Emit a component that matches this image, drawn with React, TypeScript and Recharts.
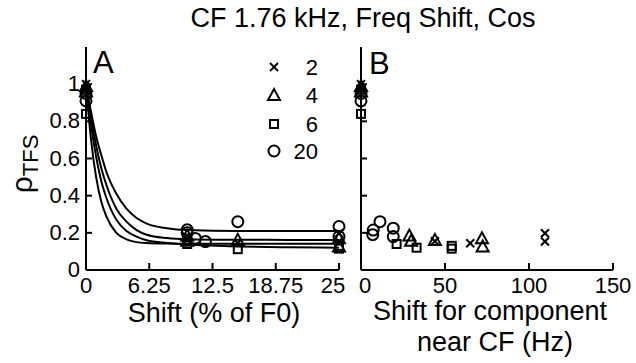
import React from "react";
import { ComposedChart, Line, Scatter, XAxis, YAxis } from "recharts";

const FONT = "'Liberation Sans', Arial, Helvetica, sans-serif";

const RHO_TICKS = [0, 0.2, 0.4, 0.6, 0.8, 1];
const SHIFT_TICKS = [0, 6.25, 12.5, 18.75, 25];
const HZ_TICKS = [0, 50, 100, 150];

// legend labels, one per marker type
const LEGEND_LABELS = ["2", "4", "6", "20"];

// panel A: [shift (% of F0), rho]
const CROSS_A = [[0, 1.0], [0, 0.97], [10, 0.16], [15, 0.145], [25, 0.198], [25, 0.153]];
const TRI_A = [[0, 0.99], [0, 0.96], [10, 0.185], [10, 0.157], [15, 0.162], [25, 0.171], [25, 0.126]];
const SQUARE_A = [[0, 0.97], [0, 0.84], [10, 0.14], [15, 0.112], [25, 0.13], [25, 0.115]];
const CIRCLE_A = [[0, 0.95], [0, 0.91], [10, 0.216], [10, 0.2], [10.8, 0.17], [11.8, 0.153], [15, 0.26], [25, 0.234], [25, 0.18]];

// panel B: [shift of component near CF (Hz), rho]
const CROSS_B = [[0, 1.0], [0, 0.97], [44, 0.155], [65, 0.144], [109.5, 0.198], [109.5, 0.153]];
const TRI_B = [[0, 0.99], [0, 0.96], [28.8, 0.185], [29.8, 0.157], [44, 0.162], [72, 0.171], [72.4, 0.126]];
const SQUARE_B = [[0, 0.97], [0, 0.84], [21.2, 0.14], [33.1, 0.12], [54, 0.13], [54, 0.115]];
const CIRCLE_B = [[0, 0.95], [0, 0.91], [7.3, 0.215], [7, 0.19], [11.3, 0.26], [19.2, 0.225], [19.2, 0.18]];

// fitted decay curves in panel A
const FIT_X = [0, 0.5, 1, 1.5, 2, 3, 4, 5, 6, 8, 10, 15, 20, 25];
const FIT_1 = [1, 0.7, 0.5, 0.37, 0.29, 0.2, 0.165, 0.15, 0.145, 0.142, 0.141, 0.141, 0.141, 0.141];
const FIT_2 = [1, 0.78, 0.61, 0.48, 0.39, 0.27, 0.21, 0.18, 0.16, 0.145, 0.137, 0.127, 0.122, 0.12];
const FIT_3 = [1, 0.82, 0.67, 0.55, 0.46, 0.33, 0.26, 0.215, 0.19, 0.172, 0.166, 0.163, 0.162, 0.162];
const FIT_4 = [1, 0.85, 0.72, 0.62, 0.53, 0.41, 0.33, 0.28, 0.25, 0.225, 0.215, 0.21, 0.21, 0.21];

const fitData = FIT_X.map((x, i) => ({ x, f1: FIT_1[i], f2: FIT_2[i], f3: FIT_3[i], f4: FIT_4[i] }));
const pts = (arr: number[][]) => arr.map(([x, y]) => ({ x, y }));

const W = 636;
const H = 363;
const PLOT_TOP = 47;
const PLOT_BOTTOM = 270;

type Kind = "cross" | "tri" | "square" | "circle";
const KINDS: Kind[] = ["cross", "tri", "square", "circle"];

function Marker({ kind, cx, cy }: { kind: Kind; cx: number; cy: number }) {
  const s = { stroke: "#000", strokeWidth: 2, fill: "none" };
  if (kind === "cross")
    return (
      <g {...s}>
        <line x1={cx - 4} y1={cy - 4} x2={cx + 4} y2={cy + 4} />
        <line x1={cx - 4} y1={cy + 4} x2={cx + 4} y2={cy - 4} />
      </g>
    );
  if (kind === "tri") return <polygon {...s} points={`${cx},${cy - 6} ${cx + 6},${cy + 5} ${cx - 6},${cy + 5}`} />;
  if (kind === "square") return <rect {...s} x={cx - 4} y={cy - 4} width={8} height={8} />;
  return <circle {...s} cx={cx} cy={cy} r={5.5} />;
}

const shape = (kind: Kind) => (p: any) => <Marker kind={kind} cx={p.cx} cy={p.cy} />;

function LeftTick(props: any) {
  const { x, y, payload, showLabel } = props;
  return (
    <g>
      <line x1={x} y1={y} x2={x + 6} y2={y} stroke="#000" strokeWidth={2} />
      {showLabel && (
        <text x={x - 6} y={y} dy={7} textAnchor="end" fontSize={22} fontFamily={FONT} fill="#000">
          {String(payload.value)}
        </text>
      )}
    </g>
  );
}

function BottomTick(props: any) {
  const { x, y, payload, shiftFirst, shiftLast, first, last } = props;
  let dx = 0;
  if (payload.value === first) dx = shiftFirst || 0;
  if (payload.value === last) dx = shiftLast || 0;
  return (
    <g>
      <line x1={x} y1={y} x2={x} y2={y - 7} stroke="#000" strokeWidth={2} />
      <text x={x + dx} y={y + 23} textAnchor="middle" fontSize={22} fontFamily={FONT} fill="#000">
        {String(payload.value)}
      </text>
    </g>
  );
}

const axisLine = { stroke: "#000", strokeWidth: 2 };

function Panel({
  left,
  right,
  domain,
  ticks,
  series,
  showYLabels,
  withFits,
  shiftFirst,
  shiftLast,
}: {
  left: number;
  right: number;
  domain: [number, number];
  ticks: number[];
  series: number[][][];
  showYLabels: boolean;
  withFits: boolean;
  shiftFirst: number;
  shiftLast: number;
}) {
  // axes take 1px each, so the plot area starts at `left` and ends at PLOT_BOTTOM
  return (
    <div style={{ position: "absolute", left: 0, top: 0 }}>
      <ComposedChart
        width={W}
        height={H}
        data={fitData}
        margin={{ left: left - 1, right, top: PLOT_TOP, bottom: H - PLOT_BOTTOM - 1 }}
      >
        <XAxis
          type="number"
          dataKey="x"
          domain={domain}
          ticks={ticks}
          interval={0}
          height={1}
          tickSize={0}
          tickMargin={0}
          tickLine={false}
          axisLine={axisLine}
          tick={<BottomTick shiftFirst={shiftFirst} shiftLast={shiftLast} first={ticks[0]} last={ticks[ticks.length - 1]} />}
        />
        <YAxis
          type="number"
          domain={[0, 1.2]}
          ticks={RHO_TICKS}
          interval={0}
          width={1}
          tickSize={0}
          tickMargin={0}
          tickLine={false}
          axisLine={axisLine}
          tick={<LeftTick showLabel={showYLabels} />}
        />
        {withFits &&
          ["f1", "f2", "f3", "f4"].map((k) => (
            <Line
              key={k}
              type="monotone"
              dataKey={k}
              stroke="#000"
              strokeWidth={2}
              dot={false}
              isAnimationActive={false}
            />
          ))}
        {series.map((s, i) => (
          <Scatter
            key={KINDS[i]}
            data={pts(s)}
            dataKey="y"
            shape={shape(KINDS[i])}
            isAnimationActive={false}
          />
        ))}
      </ComposedChart>
    </div>
  );
}

export default function App() {
  const legendRows = [67, 95, 124, 151];
  return (
    <div style={{ position: "absolute", left: 0, top: 0, width: W, height: H, background: "#fff", fontFamily: FONT }}>
      <Panel
        left={86}
        right={W - 339}
        domain={[0, 25]}
        ticks={SHIFT_TICKS}
        series={[CROSS_A, TRI_A, SQUARE_A, CIRCLE_A]}
        showYLabels
        withFits
        shiftFirst={0}
        shiftLast={-6}
      />
      <Panel
        left={361}
        right={W - 613}
        domain={[0, 150]}
        ticks={HZ_TICKS}
        series={[CROSS_B, TRI_B, SQUARE_B, CIRCLE_B]}
        showYLabels={false}
        withFits={false}
        shiftFirst={4}
        shiftLast={0}
      />
      <svg width={W} height={H} style={{ position: "absolute", left: 0, top: 0 }}>
        <text x={363} y={27} textAnchor="middle" fontSize={27} fontFamily={FONT}>
          CF 1.76 kHz, Freq Shift, Cos
        </text>
        <text x={93} y={73} fontSize={31} fontFamily={FONT}>A</text>
        <text x={369} y={74} fontSize={31} fontFamily={FONT}>B</text>
        <text transform="translate(32,164) rotate(-90)" textAnchor="middle" fontSize={30} fontFamily={FONT}>
          ρ<tspan fontSize={22} dy={6}>TFS</tspan>
        </text>
        {LEGEND_LABELS.map((lab, i) => (
          <g key={lab}>
            <Marker kind={KINDS[i]} cx={274} cy={legendRows[i]} />
            <text x={318} y={legendRows[i] + 8} textAnchor="end" fontSize={22} fontFamily={FONT}>
              {lab}
            </text>
          </g>
        ))}
        <text x={214} y={322} textAnchor="middle" fontSize={27} fontFamily={FONT}>
          Shift (% of F0)
        </text>
        <text x={490} y={320} textAnchor="middle" fontSize={27} fontFamily={FONT}>
          Shift for component
        </text>
        <text x={495} y={351} textAnchor="middle" fontSize={27} fontFamily={FONT}>
          near CF (Hz)
        </text>
      </svg>
    </div>
  );
}
